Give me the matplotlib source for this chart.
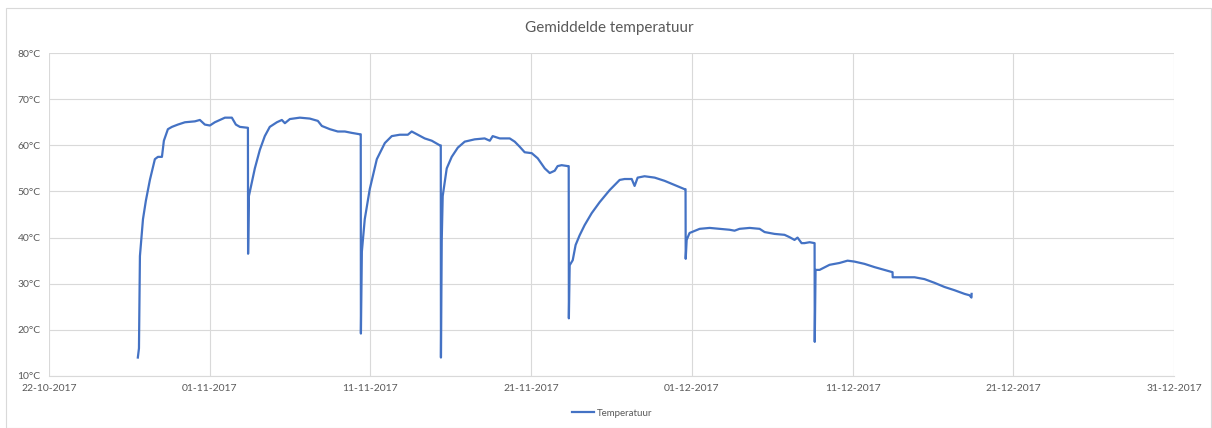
import pandas as pd
import matplotlib
matplotlib.use("Agg")
import matplotlib.pyplot as plt
import matplotlib.dates as mdates
from matplotlib.ticker import FuncFormatter

plt.rcParams['font.family'] = ['Lato', 'DejaVu Sans']

# days since 22-10-2017 and mean temperature (°C)
days = [5.53, 5.60, 5.66, 5.85, 6.03, 6.28, 6.59, 6.78, 7.03, 7.15, 7.40, 7.65, 8.02,
        8.46, 9.08, 9.39, 9.70, 10.01, 10.32, 10.63, 10.95, 11.38, 11.63, 11.88, 12.38,
        12.39, 12.44, 12.81, 13.12, 13.43, 13.74, 14.18, 14.49, 14.68, 14.99, 15.61,
        16.23, 16.73, 16.98, 17.48, 17.97, 18.41, 18.84, 19.34, 19.40,
        19.41, 19.47, 19.65, 19.96, 20.40, 20.90, 21.33, 21.83, 22.33, 22.57, 22.95,
        23.38, 23.82, 24.32, 24.38,
        24.39, 24.44, 24.50, 24.75, 25.06, 25.44, 25.87, 26.49, 27.11, 27.43, 27.61,
        28.05, 28.67, 28.98, 29.29, 29.60, 30.04, 30.41, 30.85, 31.16, 31.47, 31.65,
        31.90, 32.28, 32.34,
        32.35, 32.40, 32.59, 32.77, 33.02, 33.33, 33.77, 34.27, 34.89, 35.51, 35.82,
        36.26, 36.44, 36.63, 37.06, 37.69, 38.31, 38.93, 39.55, 39.61,
        39.62, 39.68, 39.86, 40.49, 41.11, 41.73, 42.35, 42.66, 42.97, 43.60, 44.22,
        44.53, 45.15, 45.77, 46.08, 46.39, 46.58, 46.83, 47.01, 47.33, 47.64,
        47.65, 47.70, 47.95, 48.57, 49.19, 49.69, 50.12, 50.75, 51.37, 51.99, 52.49,
        52.50, 53.23, 53.86, 54.48, 55.10, 55.72, 56.34, 56.97, 57.28, 57.40, 57.41]
temps = [14.0, 16.0, 36.0, 44.0, 48.0, 52.5, 57.0, 57.5, 57.5, 61.0, 63.5, 64.0, 64.5,
         65.0, 65.2, 65.5, 64.5, 64.3, 65.0, 65.5, 66.0, 66.0, 64.5, 64.0, 63.8,
         36.5, 49.0, 55.0, 59.0, 62.0, 64.0, 65.0, 65.5, 64.8, 65.7, 66.0,
         65.8, 65.3, 64.2, 63.5, 63.0, 63.0, 62.7, 62.4, 62.4,
         19.2, 37.0, 44.0, 50.5, 57.0, 60.5, 62.0, 62.3, 62.3, 63.0, 62.3,
         61.5, 61.0, 60.0, 60.0,
         14.0, 39.5, 49.0, 55.0, 57.5, 59.5, 60.8, 61.3, 61.5, 61.0, 62.0,
         61.5, 61.5, 60.8, 59.7, 58.5, 58.3, 57.2, 55.0, 54.0, 54.5, 55.5,
         55.7, 55.5, 55.5,
         22.5, 34.0, 35.1, 38.4, 40.5, 42.7, 45.3, 47.7, 50.3, 52.5, 52.7,
         52.7, 51.2, 53.0, 53.3, 53.0, 52.3, 51.4, 50.5, 50.5,
         35.4, 39.5, 41.0, 41.9, 42.1, 41.9, 41.7, 41.5, 41.9, 42.1, 41.9,
         41.2, 40.8, 40.6, 40.1, 39.5, 40.0, 38.8, 38.8, 39.0, 38.8,
         17.4, 33.0, 33.0, 34.1, 34.5, 35.0, 34.8, 34.3, 33.6, 33.0, 32.5,
         31.4, 31.4, 31.4, 31.0, 30.2, 29.3, 28.6, 27.8, 27.5, 27.0, 27.8]

start = pd.Timestamp('2017-10-22')
x = start + pd.to_timedelta(days, unit='D')

grey = '#595959'
fig = plt.figure(figsize=(12.12, 4.28), dpi=100)
ax = fig.add_axes([0.0404, 0.1215, 0.9282, 0.7545])

ax.plot(x, temps, color='#4472C4', linewidth=1.6, label='Temperatuur')

ax.set_ylim(10, 80)
ax.set_xlim(start, pd.Timestamp('2017-12-31'))
ax.set_yticks(range(10, 81, 10))
ax.yaxis.set_major_formatter(FuncFormatter(lambda v, p: f'{int(v)}°C'))
ax.set_xticks(pd.date_range('2017-10-22', '2017-12-31', freq='10D'))
ax.xaxis.set_major_formatter(mdates.DateFormatter('%d-%m-%Y'))

ax.grid(True, color='#D9D9D9', linewidth=0.8)
ax.set_axisbelow(True)
for s in ['top', 'right', 'left']:
    ax.spines[s].set_visible(False)
ax.spines['bottom'].set_color('#D9D9D9')
ax.tick_params(length=0, labelsize=7.5, labelcolor=grey, pad=6)

fig.text(0.503, 0.935, 'Gemiddelde temperatuur', ha='center', va='center',
         fontsize=11, color=grey)
fig.legend(loc='center', bbox_to_anchor=(0.505, 0.035), frameon=False,
           fontsize=7, labelcolor=grey, handlelength=2.2, handletextpad=0.3)

# outer chart border
fig.patches.append(plt.Rectangle((0.005, 0.0), 0.994, 0.982, transform=fig.transFigure,
                                 fill=False, edgecolor='#D9D9D9', linewidth=0.8))

fig.savefig('out.png', dpi=100)
